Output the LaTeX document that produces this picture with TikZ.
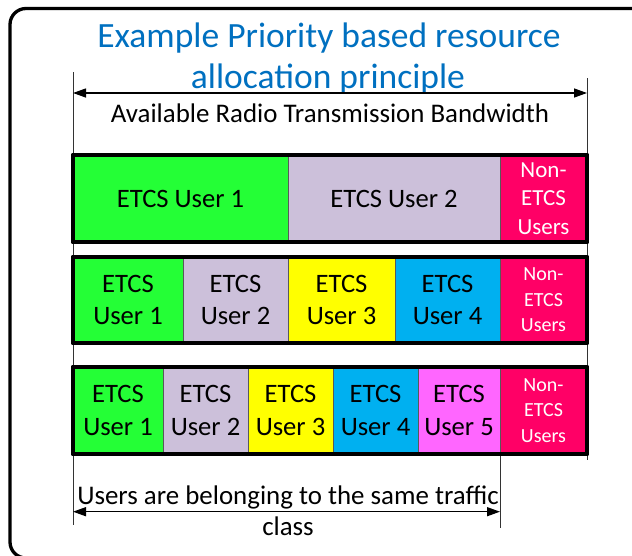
\documentclass[tikz,border=0pt]{standalone}
\usepackage{fontspec}
\setmainfont{Carlito}
\usetikzlibrary{arrows.meta}

\definecolor{titleblue}{RGB}{0,112,192}
\definecolor{ugreen}{RGB}{36,255,54}
\definecolor{ulavender}{RGB}{204,192,218}
\definecolor{uyellow}{RGB}{255,255,0}
\definecolor{ublue}{RGB}{0,176,240}
\definecolor{umagenta}{RGB}{255,102,255}
\definecolor{upink}{RGB}{255,0,102}

\begin{document}
\begin{tikzpicture}[x=1pt,y=-1pt,
  titletext/.style={anchor=base, text=titleblue, inner sep=0pt, font=\fontsize{35.5}{40}\selectfont},
  labeltext/.style={anchor=base, inner sep=0pt, font=\fontsize{26.9}{31}\selectfont},
  cell/.style={draw=black!65, line width=0.8pt, inner sep=0pt, align=center,
               minimum height=87pt, font=\fontsize{26.6}{32.5}\selectfont},
  otherwide/.style={cell, fill=upink, text=white, font=\fontsize{23}{28.5}\selectfont},
  othernarrow/.style={cell, fill=upink, text=white, font=\fontsize{20}{25.5}\selectfont},
  rowframe/.style={draw=black, line width=4pt, line join=round},
  dimline/.style={draw=black!80, line width=0.8pt},
  dimarrow/.style={draw=black, line width=1.3pt, {Triangle[length=13pt,width=9pt]}-{Triangle[length=13pt,width=9pt]}}
]
\useasboundingbox (0,0) rectangle (632,555);

% outer rounded frame, running off the right and bottom edges
\begin{scope}
  \clip (0,0) rectangle (632,555);
  \draw[line width=3.3pt, rounded corners=16pt] (10,8.5) rectangle (700,558);
\end{scope}

% title
\node[titletext] (title1) at (329,47) {Example Priority based resource};
\node[titletext] (title2) at (328,88) {allocation principle};

% dimension helpers
\coordinate (dimTL) at (73,72);
\coordinate (dimBL) at (73,525);
\coordinate (dimTR) at (587,78);
\coordinate (dimBR) at (587,460);
\coordinate (arrL) at (73,93);
\coordinate (arrR) at (587,93);
\coordinate (clsTop) at (500,454);
\coordinate (clsBot) at (500,528);
\coordinate (clsL) at (73,511.7);
\coordinate (clsR) at (500,511.7);

\draw[dimline] (dimTL) -- (dimBL);
\draw[dimline] (dimTR) -- (dimBR);
\draw[dimline] (clsTop) -- (clsBot);
\draw[dimarrow] (arrL) -- (arrR);
\draw[dimarrow] (clsL) -- (clsR);

\node[labeltext] (bwlabel) at (330,122) {Available Radio Transmission Bandwidth};

% row 1: two ETCS users
\node[cell, fill=ugreen,     minimum width=215pt] (r1a) at (180.5,198.5) {ETCS User 1};
\node[cell, fill=ulavender,  minimum width=212pt] (r1b) at (394,198.5)   {ETCS User 2};
\node[otherwide,             minimum width=87pt]  (r1c) at (543.5,198.5) {Non-\\ETCS\\Users};
\draw[rowframe] (r1a.north west) rectangle (r1c.south east);

% row 2: four ETCS users
\node[cell, fill=ugreen,    minimum width=110pt, minimum height=86pt] (r2a) at (128,300)   {ETCS\\User 1};
\node[cell, fill=ulavender, minimum width=105pt, minimum height=86pt] (r2b) at (235.5,300) {ETCS\\User 2};
\node[cell, fill=uyellow,   minimum width=107pt, minimum height=86pt] (r2c) at (341.5,300) {ETCS\\User 3};
\node[cell, fill=ublue,     minimum width=105pt, minimum height=86pt] (r2d) at (447.5,300) {ETCS\\User 4};
\node[othernarrow,          minimum width=87pt,  minimum height=86pt] (r2e) at (543.5,300) {Non-\\ETCS\\Users};
\draw[rowframe] (r2a.north west) rectangle (r2e.south east);

% row 3: five ETCS users
\node[cell, fill=ugreen,    minimum width=90pt] (r3a) at (118,410.5)   {ETCS\\User 1};
\node[cell, fill=ulavender, minimum width=85pt] (r3b) at (205.5,410.5) {ETCS\\User 2};
\node[cell, fill=uyellow,   minimum width=85pt] (r3c) at (290.5,410.5) {ETCS\\User 3};
\node[cell, fill=ublue,     minimum width=85pt] (r3d) at (375.5,410.5) {ETCS\\User 4};
\node[cell, fill=umagenta,  minimum width=82pt] (r3e) at (459,410.5)   {ETCS\\User 5};
\node[othernarrow,          minimum width=87pt] (r3f) at (543.5,410.5) {Non-\\ETCS\\Users};
\draw[rowframe] (r3a.north west) rectangle (r3f.south east);

% traffic class label
\node[labeltext] (cls1) at (288,504) {Users are belonging to the same traffic};
\node[labeltext] (cls2) at (288,535) {class};
\end{tikzpicture}
\end{document}
